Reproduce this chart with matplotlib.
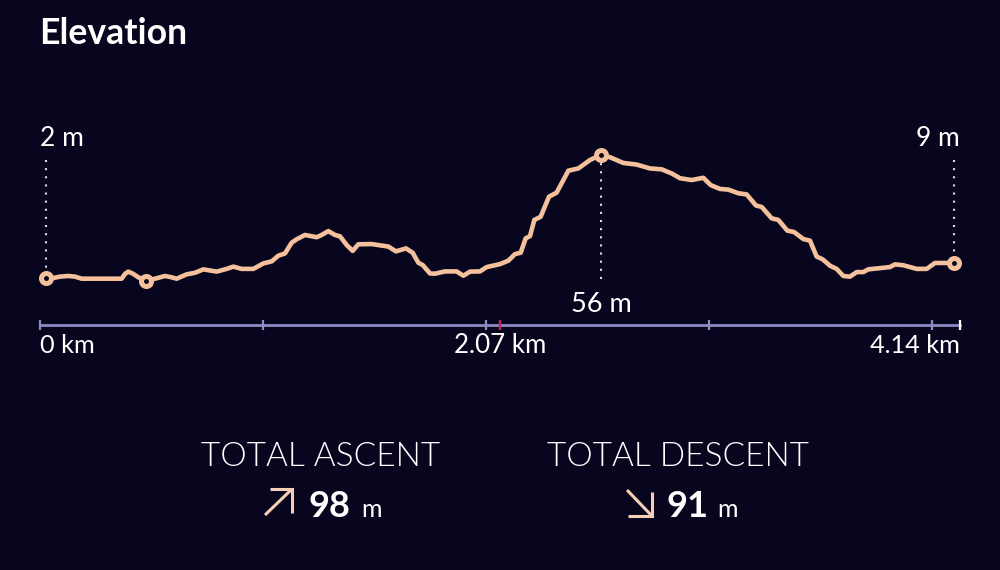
import matplotlib
matplotlib.use("Agg")
import matplotlib.pyplot as plt
from matplotlib.lines import Line2D

# ---------- data ----------
distance_km = [
    0.0255, 0.060, 0.090, 0.1275, 0.1575, 0.1875, 0.255, 0.3675, 0.3825, 0.3975, 0.420, 0.4425,
    0.477, 0.5175, 0.5625, 0.5925, 0.615, 0.66, 0.6975, 0.735, 0.795, 0.84, 0.87, 0.9075, 0.96,
    1.005, 1.0425, 1.0725, 1.1025, 1.1325, 1.155, 1.1925, 1.245, 1.2675, 1.2975, 1.3275, 1.35,
    1.38, 1.407, 1.4325, 1.4925, 1.5675, 1.602, 1.647, 1.677, 1.7025, 1.722, 1.755, 1.7775,
    1.8225, 1.875, 1.905, 1.935, 1.98, 2.01, 2.07, 2.1075, 2.1375, 2.163, 2.1855, 2.205, 2.2245,
    2.253, 2.2905, 2.325, 2.3775, 2.4225, 2.475, 2.523, 2.565, 2.625, 2.685, 2.745, 2.7975,
    2.8425, 2.88, 2.9325, 2.985, 3.018, 3.06, 3.0975, 3.1425, 3.18, 3.222, 3.2475, 3.2925,
    3.3225, 3.363, 3.393, 3.435, 3.465, 3.495, 3.522, 3.555, 3.585, 3.615, 3.645, 3.675, 3.705,
    3.7275, 3.825, 3.8475, 3.885, 3.945, 3.99, 4.0275, 4.113,
]
elevation_m = [
    2.0, 2.0, 2.6, 2.9, 2.6, 1.7, 1.7, 1.7, 3.8, 4.8, 3.8, 2.3,
    0.8, 1.7, 2.9, 2.3, 1.7, 3.6, 4.3, 5.8, 4.8, 6.0, 7.0, 6.0, 6.0,
    8.4, 9.3, 11.8, 12.8, 17.5, 19.0, 20.9, 19.9, 20.9, 22.6, 20.9, 20.3,
    16.5, 13.9, 16.8, 16.9, 15.8, 13.7, 15.0, 13.1, 8.7, 7.7, 4.0, 3.9,
    4.9, 4.9, 3.0, 4.8, 4.9, 6.8, 8.1, 9.6, 12.5, 13.1, 19.4, 20.4, 27.5,
    28.9, 37.7, 39.5, 49.1, 50.1, 53.8, 56.0, 55.0, 52.5, 51.8, 50.1, 49.7,
    47.9, 45.8, 45.0, 46.0, 42.8, 41.1, 40.8, 39.2, 38.7, 33.8, 33.2, 28.2,
    27.5, 22.8, 22.2, 19.1, 18.4, 11.4, 10.2, 7.4, 6.0, 2.9, 2.6, 4.6, 4.6,
    5.8, 6.8, 8.0, 7.6, 6.0, 6.0, 8.6, 8.6,
]
marker_km = [0.0255, 0.477, 2.523, 4.113]
marker_m = [2.0, 0.8, 56.0, 8.6]
drop_km = [0.0255, 2.523, 4.113]
drop_from_m = [53.8, 56.0, 53.8]
drop_to_m = [2.0, 0.2, 8.6]
grid_ticks_km = [0, 1.0035, 2.007, 3.0105, 4.014]
midpoint_km = 2.07
total_km = 4.14
title = "Elevation"
stat_labels = ["TOTAL ASCENT", "TOTAL DESCENT"]
stat_values = ["98", "91"]

# ---------- style ----------
BG = "#08061f"
LINE = "#f4c19c"
AXIS = "#8f8bc4"
RED = "#c2245c"
WHITE = "#ffffff"
ICON = "#f6cfb4"
FONT = "Lato"

W, H = 1000, 570
fig = plt.figure(figsize=(W / 100, H / 100), dpi=100, facecolor=BG)
AX_LEFT, AX_RIGHT, AX_TOP, AX_BOTTOM = 40, 960, 120, 325
ax = fig.add_axes([AX_LEFT / W, 1 - AX_BOTTOM / H, (AX_RIGHT - AX_LEFT) / W, (AX_BOTTOM - AX_TOP) / H])
ax.set_facecolor(BG)
ax.set_xlim(0, total_km)
ax.set_ylim(-18.63, 71.36)
for s in ["top", "left", "right"]:
    ax.spines[s].set_visible(False)
ax.spines["bottom"].set_color(AXIS)
ax.spines["bottom"].set_linewidth(2.0)
ax.set_yticks([])
ax.set_xticks(grid_ticks_km)
ax.set_xticklabels([])
ax.tick_params(axis="x", direction="inout", length=7, width=1.6, color=AXIS)

# special ticks
ax.plot([midpoint_km], [0], transform=ax.get_xaxis_transform(), marker="|", ms=7, mew=1.6,
        color=RED, clip_on=False, zorder=5)
ax.plot([total_km], [0], transform=ax.get_xaxis_transform(), marker="|", ms=7, mew=1.6,
        color=WHITE, clip_on=False, zorder=5)

# dotted droplines
for x, y0, y1 in zip(drop_km, drop_from_m, drop_to_m):
    ax.plot([x, x], [y0, y1], color="#dedcf0", lw=1.5, dashes=(1.0, 2.9), zorder=2, clip_on=False)

# profile line
ax.plot(distance_km, elevation_m, color=LINE, lw=3.3, solid_joinstyle="round",
        solid_capstyle="round", zorder=3, clip_on=False)
ax.plot(marker_km, marker_m, ls="none", marker="o", ms=7.2, mew=3.6, mec=LINE, mfc=BG,
        zorder=4, clip_on=False)


def T(x, y, s, size, ha="left", weight="normal", color=WHITE):
    fig.text(x / W, 1 - y / H, s, fontsize=size, ha=ha, va="baseline", color=color,
             fontweight=weight, family=FONT)


T(39, 44, title, 25.7, weight="bold")

T(40, 146, "2 m", 19)
T(960, 146, "9 m", 19, ha="right")
T(601, 312, "56 m", 19.5, ha="center")

T(40, 353, "0 km", 18.2)
T(500, 353, "2.07 km", 18.6, ha="center")
T(960, 353, "4.14 km", 18.2, ha="right")

T(321, 466, stat_labels[0], 24, ha="center", weight=300)
T(678, 466, stat_labels[1], 24, ha="center", weight=300)

T(308, 517, stat_values[0], 26, weight="bold")
T(361, 517, "m", 18)
T(667, 517, stat_values[1], 26, weight="bold")
T(717, 517, "m", 18)


def icon(xs, ys):
    fig.add_artist(Line2D([v / W for v in xs], [1 - v / H for v in ys], color=ICON, lw=2.2,
                          transform=fig.transFigure, solid_joinstyle="miter", solid_capstyle="butt"))


icon([265, 292], [515, 489])
icon([270, 292, 292], [489, 489, 513])
icon([627, 652], [490, 516])
icon([652, 652, 628], [492, 516, 516])

fig.savefig("out.png", dpi=100, facecolor=BG)
